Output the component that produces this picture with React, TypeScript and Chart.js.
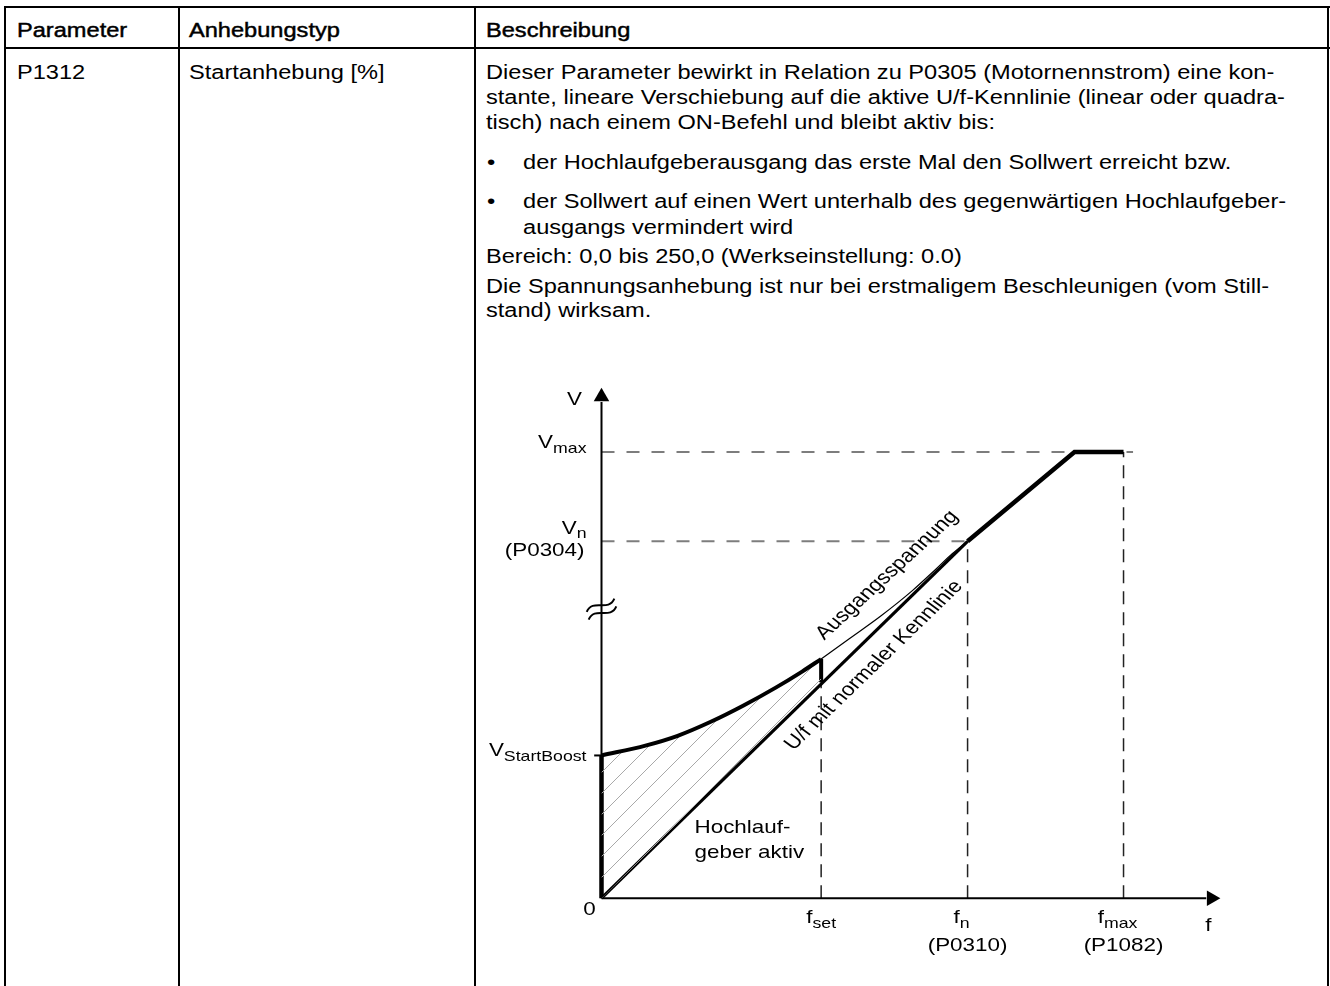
import React, { useEffect, useRef } from "react";
import { Chart, registerables } from "chart.js";

Chart.register(...registerables);

const FONT = '"Liberation Sans", Arial, Helvetica, sans-serif';
const SX = 1.18; // horizontal stretch of the reference typography

// ---------------- table texts ----------------
const headerTexts = ["Parameter", "Anhebungstyp", "Beschreibung"];
const parameterText = "P1312";
const boostTypeText = "Startanhebung [%]";
const introLines = [
  "Dieser Parameter bewirkt in Relation zu P0305 (Motornennstrom) eine kon-",
  "stante, lineare Verschiebung auf die aktive U/f-Kennlinie (linear oder quadra-",
  "tisch) nach einem ON-Befehl und bleibt aktiv bis:",
];
const bullet1Lines = ["der Hochlaufgeberausgang das erste Mal den Sollwert erreicht bzw."];
const bullet2Lines = [
  "der Sollwert auf einen Wert unterhalb des gegenwärtigen Hochlaufgeber-",
  "ausgangs vermindert wird",
];
const rangeLines = ["Bereich: 0,0 bis 250,0 (Werkseinstellung: 0.0)"];
const noteLines = [
  "Die Spannungsanhebung ist nur bei erstmaligem Beschleunigen (vom Still-",
  "stand) wirksam.",
];

// ---------------- diagram data (f, V in diagram units) ----------------
const fSet = 30;
const fN = 50;
const fMax = 71.3;
const vMax = 500;
const vN = 400;
const vStartBoost = 160;

const boostCurveF = [0, 6, 10.4, 15, 19.4, 23.8, 27.4, 30];
const boostCurveV = [160, 171, 182, 198, 216, 236, 254, 268];
const rampBaseF = [0, 30];
const rampBaseV = [0, 242];
const setStepF = [30, 30];
const setStepV = [268, 242];
const normalLowF = [0, 50];
const normalLowV = [0, 400];
const normalHighF = [50, 64.6, 71.3];
const normalHighV = [400, 500, 500];
const outputF = [30, 33.7, 38.1, 42.5, 45.7, 47.9, 50];
const outputV = [268, 290, 316, 345, 369, 386, 400];
const boostAxisF = [0, 0];
const boostAxisV = [0, 160];
const boostTickF = [-1, 0];
const boostTickV = [160, 160];
const vMaxGuideF = [0, 72.6];
const vNGuideF = [0, 50];
const xAxisF = [0, 82.6];
const yAxisV = [0, 556];
const xArrowF = 83.3;
const yArrowV = 562;

const yLevelValues = [vMax, vN, vStartBoost];
const yLevelMain = ["V", "V", "V"];
const yLevelSub = ["max", "n", "StartBoost"];
const yLevelNote = ["", "(P0304)", ""];
const xLevelValues = [fSet, fN, fMax];
const xLevelMain = ["f", "f", "f"];
const xLevelSub = ["set", "n", "max"];
const xLevelNote = ["", "(P0310)", "(P1082)"];
const axisNames = ["V", "f"];
const originLabel = "0";
const breakV = 324;
const curveLabels = ["Ausgangsspannung", "U/f mit normaler Kennlinie"];
const curveLabelF = [39.0, 37.2];
const curveLabelV = [362, 261];
const curveLabelAngle = [-42.5, -44];
const rampNote = ["Hochlauf-", "geber aktiv"];
const rampNoteF = 12.7;
const rampNoteV = [78.5, 51.2];

// ---------------- layout ----------------
const CANVAS_LEFT = 477;
const CANVAS_TOP = 330;
const CANVAS_W = 850;
const CANVAS_H = 656;
const ORIGIN_X = 118; // origin pixel inside canvas
const ORIGIN_Y = 575;
const PX_PER_F = 7.48;
const PX_PER_V = 0.9175;

const pts = (xs: number[], ys: number[]) => xs.map((x, i) => ({ x, y: ys[i] }));

function textAt(ctx: CanvasRenderingContext2D, text: string, x: number, y: number, size: number, align: CanvasTextAlign) {
  ctx.save();
  ctx.font = `${size}px ${FONT}`;
  ctx.translate(x, y);
  ctx.scale(SX, 1);
  ctx.textAlign = align;
  ctx.textBaseline = "middle";
  ctx.fillText(text, 0, 0);
  ctx.restore();
}
function measure(ctx: CanvasRenderingContext2D, text: string, size: number) {
  ctx.font = `${size}px ${FONT}`;
  return ctx.measureText(text).width * SX;
}
function subLabel(ctx: CanvasRenderingContext2D, main: string, sub: string, x: number, y: number, align: "left" | "right" | "center") {
  const wm = measure(ctx, main, 19);
  const ws = sub ? measure(ctx, sub, 15) : 0;
  const total = wm + ws;
  const x0 = align === "left" ? x : align === "right" ? x - total : x - total / 2;
  textAt(ctx, main, x0, y, 19, "left");
  if (sub) textAt(ctx, sub, x0 + wm, y + 6, 15, "left");
}

const labelPlugin = {
  id: "diagramLabels",
  afterDatasetsDraw(chart: any) {
    const { ctx } = chart;
    const xs = chart.scales.x;
    const ys = chart.scales.y;
    const ax = xs.getPixelForValue(0);
    const ay = ys.getPixelForValue(0);
    ctx.save();
    ctx.fillStyle = "#000";
    // y level labels
    const yOff = [-9, -13, -5];
    yLevelValues.forEach((v, i) => {
      const py = ys.getPixelForValue(v);
      subLabel(ctx, yLevelMain[i], yLevelSub[i], ax - 15, py + yOff[i], "right");
      if (yLevelNote[i]) textAt(ctx, yLevelNote[i], ax - 17, py + 9, 19, "right");
    });
    // x level labels
    xLevelValues.forEach((f, i) => {
      const px = xs.getPixelForValue(f);
      subLabel(ctx, xLevelMain[i], xLevelSub[i], px - (i === 0 ? 0 : 6), ay + 20, "center");
      if (xLevelNote[i]) textAt(ctx, xLevelNote[i], px, ay + 48, 19, "center");
    });
    // axis names and origin
    textAt(ctx, axisNames[0], ax - 27, ys.getPixelForValue(yArrowV) + 3, 19, "center");
    textAt(ctx, axisNames[1], xs.getPixelForValue(xArrowF) - 3, ay + 28, 19, "center");
    textAt(ctx, originLabel, ax - 12, ay + 12, 19, "center");
    // axis break mark (two waves across the axis)
    ctx.save();
    ctx.translate(ax, ys.getPixelForValue(breakV));
    ctx.rotate(-0.25);
    ctx.strokeStyle = "#000";
    ctx.lineWidth = 2;
    [-4, 4].forEach((dy) => {
      ctx.beginPath();
      ctx.moveTo(-15, dy + 3);
      ctx.bezierCurveTo(-6, dy - 9, 6, dy + 9, 15, dy - 3);
      ctx.stroke();
    });
    ctx.restore();
    // ramp note
    rampNote.forEach((t, i) => {
      textAt(ctx, t, xs.getPixelForValue(rampNoteF), ys.getPixelForValue(rampNoteV[i]), 19, "left");
    });
    // rotated curve labels
    curveLabels.forEach((t, i) => {
      const th = (curveLabelAngle[i] * Math.PI) / 180;
      const thp = Math.atan(SX * Math.tan(th));
      ctx.save();
      ctx.translate(xs.getPixelForValue(curveLabelF[i]), ys.getPixelForValue(curveLabelV[i]));
      ctx.scale(SX, 1);
      ctx.rotate(thp);
      ctx.font = `19px ${FONT}`;
      ctx.textAlign = "center";
      ctx.textBaseline = "middle";
      ctx.fillText(t, 0, 0);
      ctx.restore();
    });
    ctx.restore();
  },
};

function makeHatch(): CanvasPattern | string {
  const s = 21;
  const c = document.createElement("canvas");
  c.width = s;
  c.height = s;
  const g = c.getContext("2d");
  if (!g) return "rgba(0,0,0,0)";
  g.strokeStyle = "#a9a9a9";
  g.lineWidth = 1;
  g.beginPath();
  g.moveTo(-2, 2);
  g.lineTo(2, -2);
  g.moveTo(0, s);
  g.lineTo(s, 0);
  g.moveTo(s - 2, s + 2);
  g.lineTo(s + 2, s - 2);
  g.stroke();
  const p = g.createPattern(c, "repeat");
  return p || "rgba(0,0,0,0)";
}

function Diagram() {
  const ref = useRef<HTMLCanvasElement | null>(null);
  useEffect(() => {
    if (!ref.current) return;
    const hatch = makeHatch();
    const line = (data: any[], extra: any) => ({
      data,
      showLine: true,
      pointRadius: 0,
      borderColor: "#000",
      borderWidth: 2,
      fill: false,
      tension: 0,
      ...extra,
    });
    const chart = new Chart(ref.current, {
      type: "scatter",
      data: {
        datasets: [
          line(pts(boostCurveF, boostCurveV), { borderWidth: 4, fill: 1, backgroundColor: hatch, cubicInterpolationMode: "monotone" }),
          line(pts(rampBaseF, rampBaseV), { borderWidth: 0, borderColor: "rgba(0,0,0,0)" }),
          line(pts(setStepF, setStepV), { borderWidth: 4 }),
          line(pts(normalLowF, normalLowV), { borderWidth: 3.2 }),
          line(pts(normalHighF, normalHighV), { borderWidth: 4.5 }),
          line(pts(outputF, outputV), { borderWidth: 1.2, cubicInterpolationMode: "monotone" }),
          line(pts(boostAxisF, boostAxisV), { borderWidth: 4.5 }),
          line(pts(boostTickF, boostTickV), { borderWidth: 2 }),
          line(pts(xAxisF, [0, 0]), { borderWidth: 2 }),
          line(pts([0, 0], yAxisV), { borderWidth: 2 }),
          {
            data: [{ x: xArrowF, y: 0 }],
            pointStyle: "triangle",
            pointRotation: 90,
            pointRadius: 9,
            backgroundColor: "#000",
            borderWidth: 0,
          },
          {
            data: [{ x: 0, y: yArrowV }],
            pointStyle: "triangle",
            pointRotation: 0,
            pointRadius: 9,
            backgroundColor: "#000",
            borderWidth: 0,
          },
          line(pts(vMaxGuideF, [vMax, vMax]), { borderWidth: 2, borderColor: "#7d7d7d", borderDash: [13, 12] }),
          line(pts(vNGuideF, [vN, vN]), { borderWidth: 2, borderColor: "#7d7d7d", borderDash: [13, 12] }),
          line(pts([fSet, fSet], [0, 242]), { borderWidth: 1.5, borderColor: "#222", borderDash: [13, 8] }),
          line(pts([fN, fN], [0, vN]), { borderWidth: 1.5, borderColor: "#222", borderDash: [13, 8] }),
          line(pts([fMax, fMax], [0, vMax]), { borderWidth: 1.5, borderColor: "#222", borderDash: [13, 8] }),
        ],
      },
      options: {
        animation: false,
        responsive: false,
        events: [],
        layout: { padding: 0 },
        plugins: { legend: { display: false }, tooltip: { enabled: false } },
        scales: {
          x: {
            type: "linear",
            display: false,
            min: -ORIGIN_X / PX_PER_F,
            max: (CANVAS_W - ORIGIN_X) / PX_PER_F,
          },
          y: {
            type: "linear",
            display: false,
            min: -(CANVAS_H - ORIGIN_Y) / PX_PER_V,
            max: ORIGIN_Y / PX_PER_V,
          },
        },
      },
      plugins: [labelPlugin],
    } as any);
    return () => chart.destroy();
  }, []);
  return (
    <canvas
      ref={ref}
      width={CANVAS_W}
      height={CANVAS_H}
      style={{ position: "absolute", left: CANVAS_LEFT, top: CANVAS_TOP, width: CANVAS_W, height: CANVAS_H }}
    />
  );
}

function Line({ x, y, children, strong }: { x: number; y: number; children: any; strong?: boolean }) {
  return (
    <div
      style={{
        position: "absolute",
        left: x,
        top: y - 12,
        height: 24,
        lineHeight: "24px",
        fontSize: 20,
        fontFamily: FONT,
        color: "#000",
        whiteSpace: "nowrap",
        transform: `scaleX(${SX})`,
        transformOrigin: "0 0",
        WebkitTextStroke: strong ? "0.45px #000" : undefined,
      }}
    >
      {children}
    </div>
  );
}

export default function App() {
  const rule = (l: number, t: number, w: number, h: number) => (
    <div style={{ position: "absolute", left: l, top: t, width: w, height: h, background: "#000" }} />
  );
  const c3 = 486;
  const b = 523;
  return (
    <div style={{ position: "absolute", left: 0, top: 0, width: 1330, height: 986, background: "#fff", overflow: "hidden" }}>
      {rule(4, 6, 1326, 2)}
      {rule(4, 47, 1326, 2)}
      {rule(4, 6, 2, 980)}
      {rule(178, 6, 2, 980)}
      {rule(474, 6, 2, 980)}
      {rule(1327, 6, 2, 980)}
      <Line x={17} y={30} strong>{headerTexts[0]}</Line>
      <Line x={189} y={30} strong>{headerTexts[1]}</Line>
      <Line x={c3} y={30} strong>{headerTexts[2]}</Line>
      <Line x={17} y={72}>{parameterText}</Line>
      <Line x={189} y={72}>{boostTypeText}</Line>
      {introLines.map((t, i) => (
        <Line key={"i" + i} x={c3} y={72 + i * 25}>{t}</Line>
      ))}
      <Line x={487} y={162}>•</Line>
      {bullet1Lines.map((t, i) => (
        <Line key={"a" + i} x={b} y={162 + i * 26}>{t}</Line>
      ))}
      <Line x={487} y={201}>•</Line>
      {bullet2Lines.map((t, i) => (
        <Line key={"b" + i} x={b} y={201 + i * 26}>{t}</Line>
      ))}
      {rangeLines.map((t, i) => (
        <Line key={"r" + i} x={c3} y={256 + i * 25}>{t}</Line>
      ))}
      {noteLines.map((t, i) => (
        <Line key={"n" + i} x={c3} y={286 + i * 24}>{t}</Line>
      ))}
      <Diagram />
    </div>
  );
}
